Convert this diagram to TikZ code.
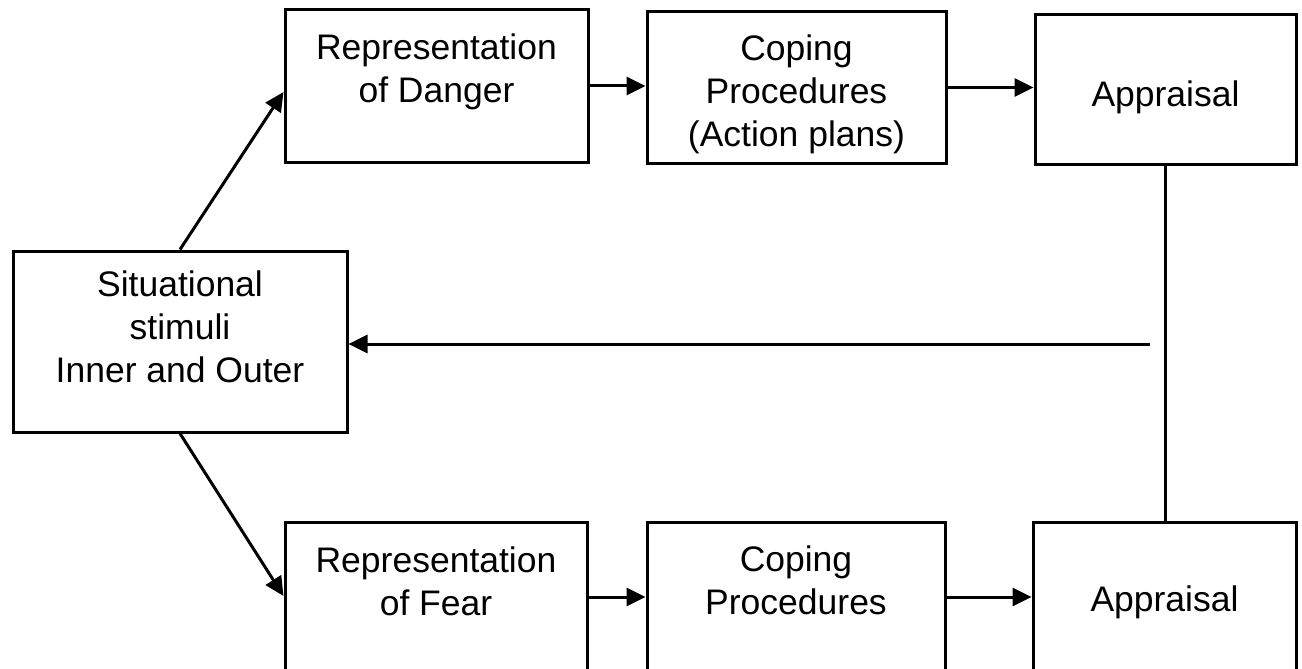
\documentclass[tikz,border=0pt]{standalone}
\usepackage{fontspec}
\setmainfont{Liberation Sans}
\usetikzlibrary{arrows.meta,calc}
\begin{document}
\begin{tikzpicture}[x=1pt,y=-1pt,
  box/.style={draw,line width=3pt,rectangle,inner sep=0pt},
  lbl/.style={anchor=north,align=center,inner sep=0pt,font=\fontsize{35.5}{43}\selectfont},
  conn/.style={line width=3pt},
  arr/.style={conn,-{Triangle[length=19pt,width=18pt]}}]
\useasboundingbox (0,0) rectangle (1302,669);
\clip (0,0) rectangle (1302,669);
\fill[white] (0,0) rectangle (1302,669);

% boxes
\node[box,minimum width=334pt,minimum height=181pt] (sit)  at (180,341.5) {};
\node[box,minimum width=303pt,minimum height=152pt] (repD) at (436.5,86) {};
\node[box,minimum width=299pt,minimum height=151pt] (copD) at (796.5,87.5) {};
\node[box,minimum width=261pt,minimum height=149pt] (appD) at (1165.5,89.5) {};
\node[box,minimum width=302pt,minimum height=158pt] (repF) at (436,601) {};
\node[box,minimum width=298pt,minimum height=158pt] (copF) at (796,601) {};
\node[box,minimum width=263pt,minimum height=158pt] (appF) at (1164.5,601) {};

% texts
\node[lbl] (tsit)  at ([yshift=-21pt]sit.north)  {Situational\\stimuli\\Inner and Outer};
\node[lbl] (trepD) at ([yshift=-25pt]repD.north) {Representation\\of Danger};
\node[lbl] (tcopD) at ([yshift=-24pt]copD.north) {Coping\\Procedures\\(Action plans)};
\node[lbl] (tappD) at ([yshift=-67pt]appD.north) {Appraisal};
\node[lbl] (trepF) at ([yshift=-26pt]repF.north) {Representation\\of Fear};
\node[lbl] (tcopF) at ([yshift=-25pt]copF.north) {Coping\\Procedures};
\node[lbl] (tappF) at ([yshift=-65pt]appF.north) {Appraisal};

% connectors
\draw[arr] (sit.north) -- ([yshift=-6pt]repD.west);
\draw[arr] (repD.east) -- (repD.east -| copD.west);
\draw[arr] (copD.east) -- (copD.east -| appD.west);
\draw[arr] (sit.south) -- ([yshift=5pt]repF.west);
\draw[arr] ([yshift=4pt]repF.east) -- ([yshift=4pt]repF.east -| copF.west);
\draw[arr] ([yshift=4pt]copF.east) -- ([yshift=4pt]copF.east -| appF.west);
\draw[conn] (appD.south) -- (appD.south |- appF.north);
\coordinate (fb) at (1150,344);
\draw[arr] (fb) -- (fb -| sit.east);
\end{tikzpicture}
\end{document}
